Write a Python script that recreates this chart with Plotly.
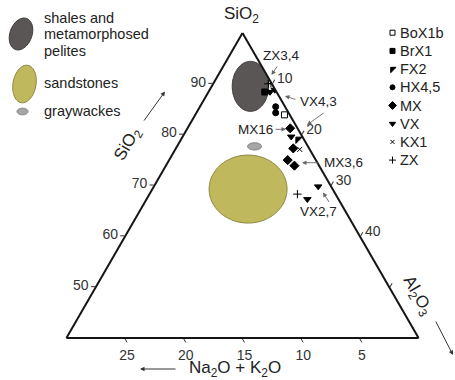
import math
import plotly.graph_objects as go

W, H = 455, 380
FONT = "Liberation Sans, Arial, Helvetica, sans-serif"

# ---------------- data ----------------
# SiO2 (top apex, %) and Al2O3 (right apex, %). The left apex carries
# Na2O+K2O on a doubled scale, so its ternary coordinate is 100 - SiO2 - Al2O3.
BOX1B_SIO2, BOX1B_AL2O3 = [83.9], [15.2]
BRX1_SIO2, BRX1_AL2O3 = [88.4], [9.6]
FX2_SIO2, FX2_AL2O3 = [79.1], [19.9]
HX_SIO2, HX_AL2O3 = [85.5, 84.3], [12.9, 13.5]
MX_SIO2, MX_AL2O3 = [81.25, 77.3, 75.0, 73.9], [17.5, 20.0, 20.2, 21.9]
VX_SIO2, VX_AL2O3 = [88.4, 88.8, 79.6, 67.3, 69.8], [10.5, 11.1, 18.5, 27.4, 28.0]
KX1_SIO2, KX1_AL2O3 = [77.1], [21.2]
ZX_SIO2, ZX_AL2O3 = [90.0, 90.1, 68.3], [9.4, 9.8, 25.2]

SAMPLE_NAMES = ["BoX1b", "BrX1", "FX2", "HX4,5", "MX", "VX", "KX1", "ZX"]
SAMPLE_SIO2 = [BOX1B_SIO2, BRX1_SIO2, FX2_SIO2, HX_SIO2, MX_SIO2, VX_SIO2, KX1_SIO2, ZX_SIO2]
SAMPLE_AL2O3 = [BOX1B_AL2O3, BRX1_AL2O3, FX2_AL2O3, HX_AL2O3, MX_AL2O3, VX_AL2O3, KX1_AL2O3, ZX_AL2O3]

SIO2_TICKS = [50, 60, 70, 80, 90]
ALK_TICKS = [5, 10, 15, 20, 25]          # Na2O + K2O (plotted at 2x)
AL2O3_TICKS = [10, 20, 30, 40, 50]
AL2O3_TICKTEXT = ["10", "20", "30", "40", ""]

# compositional fields: centre (SiO2, Al2O3), half-width / half-height in % units
FIELD_NAMES = ["shales", "sandstones", "graywackes"]
FIELD_SIO2 = [89.5, 69.3, 77.7]
FIELD_AL2O3 = [6.6, 16.3, 13.2]
FIELD_RX = [3.1, 6.64, 1.19]
FIELD_RY = [4.26, 5.79, 0.62]

# ---------------- styles ----------------
FIELD_FILL = ["#5a5656", "#bfb85c", "#a6a6a6"]
FIELD_LINE = ["#3c3838", "#8d873f", "#7c7c7c"]
SYMBOLS = ["square-open", "square", "triangle-nw", "circle", "diamond",
           "triangle-down", "x-thin", "cross-thin"]
SIZES = [6, 6, 7, 6, 7, 6.5, 5, 6]
AMIN = 40


def field_outline(a0, c0, rx, ry, n=120):
    s3 = math.sqrt(3) / 2
    x0 = c0 + (a0 - AMIN) / 2
    y0 = (a0 - AMIN) * s3
    A, B, C = [], [], []
    for k in range(n + 1):
        p = 2 * math.pi * k / n
        x = x0 + rx * math.cos(p)
        y = y0 + ry * math.sin(p)
        a = AMIN + y / s3
        c = x - (a - AMIN) / 2
        A.append(a); C.append(c); B.append(100 - a - c)
    return A, B, C


fig = go.Figure()

for i, name in enumerate(FIELD_NAMES):
    A, B, C = field_outline(FIELD_SIO2[i], FIELD_AL2O3[i], FIELD_RX[i], FIELD_RY[i])
    fig.add_trace(go.Scatterternary(
        a=A, b=B, c=C, mode="lines", fill="toself", fillcolor=FIELD_FILL[i],
        line=dict(color=FIELD_LINE[i], width=1), name=name, showlegend=False,
        hoverinfo="skip"))

for i, name in enumerate(SAMPLE_NAMES):
    a = SAMPLE_SIO2[i]
    c = SAMPLE_AL2O3[i]
    b = [100 - aa - cc for aa, cc in zip(a, c)]
    fig.add_trace(go.Scatterternary(
        a=a, b=b, c=c, mode="markers", name=name, showlegend=False,
        marker=dict(symbol=SYMBOLS[i], size=SIZES[i], color="black",
                    line=dict(color="black", width=1))))

# legend keys (right column) drawn on a hidden pixel-scaled cartesian axis
LEG_X, LEG_Y0, LEG_DY = 392.5, 32.7, 18.2
for i, name in enumerate(SAMPLE_NAMES):
    fig.add_trace(go.Scatter(
        x=[LEG_X], y=[LEG_Y0 + i * LEG_DY], mode="markers", showlegend=False,
        marker=dict(symbol=SYMBOLS[i], size=SIZES[i] - 1, color="black",
                    line=dict(color="black", width=1)),
        hoverinfo="skip", xaxis="x", yaxis="y"))

axis_common = dict(ticks="outside", ticklen=4, tickwidth=1, tickcolor="#333",
                   tickfont=dict(family=FONT, size=14, color="#333"),
                   showgrid=False, linecolor="#151515", linewidth=2,
                   tickmode="array")

fig.update_layout(
    width=W, height=H, margin=dict(l=0, r=0, t=0, b=0),
    paper_bgcolor="white", plot_bgcolor="white",
    font=dict(family=FONT, color="#222"),
    showlegend=False,
    xaxis=dict(range=[0, W], domain=[0, 1], visible=False, fixedrange=True),
    yaxis=dict(range=[H, 0], domain=[0, 1], visible=False, fixedrange=True),
    ternary=dict(
        sum=100, bgcolor="rgba(0,0,0,0)",
        domain=dict(x=[65 / W, 420 / W], y=[1 - 338 / H, 1 - 33 / H]),
        aaxis=dict(title=dict(text=""), min=AMIN, tickvals=SIO2_TICKS,
                   ticktext=[str(v) for v in SIO2_TICKS], **axis_common),
        baxis=dict(title=dict(text=""), min=0, tickvals=[2 * v for v in ALK_TICKS],
                   ticktext=[str(v) for v in ALK_TICKS], **axis_common),
        caxis=dict(title=dict(text=""), min=0, tickvals=AL2O3_TICKS,
                   ticktext=AL2O3_TICKTEXT, **axis_common),
    ),
)


def P(x, y):
    return x / W, 1 - y / H


ann = []


def text(x, y, s, size=14, angle=0, xanchor="center", color="#222"):
    px, py = P(x, y)
    ann.append(dict(x=px, y=py, xref="paper", yref="paper", text=s, showarrow=False,
                    xanchor=xanchor, yanchor="middle", textangle=angle,
                    font=dict(family=FONT, size=size, color=color)))


def arrow(tx, ty, hx, hy, color="#666", width=0.9, head=2, size=1.0):
    px, py = P(hx, hy)
    ann.append(dict(x=px, y=py, xref="paper", yref="paper", text="", showarrow=True,
                    ax=tx - hx, ay=ty - hy, axref="pixel", ayref="pixel",
                    arrowhead=head, arrowsize=size, arrowwidth=width, arrowcolor=color,
                    standoff=0, startstandoff=0))


# apex title
text(241, 15, "SiO<sub>2</sub>", 17)

# point labels and pointers
text(281.5, 55, "ZX3,4", 13.5)
arrow(278, 65, 271.5, 75)
text(318, 101.5, "VX4,3", 13.5)
arrow(297, 100, 285, 96)
arrow(325, 112, 307, 125)
text(255, 129.3, "MX16", 13.5)
arrow(274, 129.3, 286, 129.3)
text(322, 162.7, "MX3,6", 13.5, xanchor="left")
arrow(320, 162.7, 302, 162.7)
text(318, 212, "VX2,7", 13.5)
arrow(330, 203.5, 323, 192.5)

# axis titles
text(128, 145, "SiO<sub>2</sub>", 17, angle=-60)
arrow(143, 122, 165, 91.5, color="#333", width=1, head=2, size=0.9)
text(417, 296, "Al<sub>2</sub>O<sub>3</sub>", 17, angle=60)
arrow(435, 320, 453, 355, color="#333", width=1, head=2, size=0.9)
text(235, 368.5, "Na<sub>2</sub>O + K<sub>2</sub>O", 17)
arrow(177, 369, 140, 369, color="#333", width=1, head=2, size=0.9)

# field legend (top left)
text(42, 18, "shales and", 14.5, xanchor="left")
text(42, 34, "metamorphosed", 14.5, xanchor="left")
text(42, 51, "pelites", 14.5, xanchor="left")
text(42, 83, "sandstones", 14.5, xanchor="left")
text(42, 111, "graywackes", 14.5, xanchor="left")

# sample legend (top right)
for i, name in enumerate(SAMPLE_NAMES):
    text(398, LEG_Y0 + i * LEG_DY, name, 14.5, xanchor="left")

fig.update_layout(annotations=ann)


def ellipse_path(cx, cy, rmaj, rmin, tilt_deg, n=60):
    t = math.radians(tilt_deg)
    pts = []
    for k in range(n):
        p = 2 * math.pi * k / n
        u = rmaj * math.cos(p)
        v = rmin * math.sin(p)
        x = cx + u * math.sin(t) + v * math.cos(t)
        y = cy - u * math.cos(t) + v * math.sin(t)
        px, py = P(x, y)
        pts.append(f"{px:.5f},{py:.5f}")
    return "M " + " L ".join(pts) + " Z"


shapes = [
    dict(type="path", xref="paper", yref="paper", path=ellipse_path(21, 34, 16.5, 11, 20),
         fillcolor=FIELD_FILL[0], line=dict(color=FIELD_LINE[0], width=1)),
    dict(type="path", xref="paper", yref="paper", path=ellipse_path(24.5, 84, 19, 11.5, 10),
         fillcolor=FIELD_FILL[1], line=dict(color=FIELD_LINE[1], width=1)),
    dict(type="path", xref="paper", yref="paper", path=ellipse_path(22.5, 111.5, 3.3, 5.5, 0),
         fillcolor=FIELD_FILL[2], line=dict(color=FIELD_LINE[2], width=1)),
]
fig.update_layout(shapes=shapes)

fig.write_html("out.html", config={"displayModeBar": False, "staticPlot": True},
               post_script="document.body.style.margin='0';")
